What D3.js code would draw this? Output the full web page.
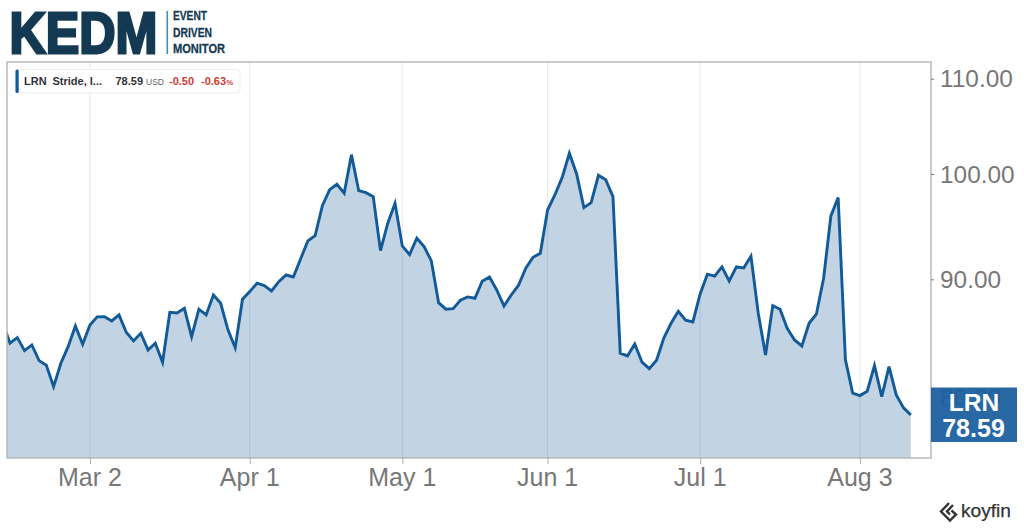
<!DOCTYPE html>
<html><head><meta charset="utf-8">
<style>html,body{margin:0;padding:0;background:#fff}svg{display:block}text{font-family:"Liberation Sans",Arial,sans-serif}</style>
<script src="https://cdn.jsdelivr.net/npm/d3@7/dist/d3.min.js"></script>
</head><body><svg id="c" width="1024" height="529"></svg>
<script>
const prices = [86.16,84.43,84.90,83.80,84.28,82.97,82.59,80.84,82.75,84.14,85.90,84.34,85.98,86.68,86.70,86.33,86.85,85.36,84.62,85.27,83.86,84.43,82.84,87.08,87.02,87.43,84.98,87.35,86.85,88.60,87.87,85.56,84.05,88.22,
88.90,89.65,89.43,88.96,89.79,90.39,90.21,91.85,93.52,94.02,96.88,98.44,98.98,98.09,101.95,98.34,98.15,97.76,92.62,95.19,97.11,
93.05,92.25,93.77,92.99,91.67,87.92,87.35,87.40,88.13,88.43,88.31,89.83,90.21,89.05,87.63,88.60,89.47,91.00,92.01,92.38,
96.46,97.92,99.63,102.09,100.00,96.69,97.17,99.87,99.43,97.76,83.59,83.36,84.37,82.84,82.31,83.00,84.87,86.13,87.17,86.39,86.24,
88.69,90.46,90.28,91.12,89.85,91.12,91.03,92.10,87.00,83.44,87.66,87.35,85.67,84.70,84.20,86.13,86.91,90.10,95.89,97.66,83.03,80.31,
80.12,80.47,82.56,80.04,82.47,80.17,79.14,78.59];
const xTickIndex = [12,34,55,75,96,118];
const xTickLabels = ["Mar 2","Apr 1","May 1","Jun 1","Jul 1","Aug 3"];
const yTickValues = [80,90,100,110];
const ticker = "LRN", company = "Stride, I...", lastPrice = "78.59", currency = "USD", change = "-0.50", changePct = "-0.63";

const L=7,R=931,T=62,B=458;
const svg=d3.select("#c");
const gray="#777",font='"Liberation Sans",Arial,sans-serif';
// index 0 lies left of the plot edge and is clipped, as in the source
const x=d3.scaleLinear().domain([0,125]).range([2.75,910.8]);
const y=d3.scaleLog().domain([75.27,111.85]).range([B,T]);

svg.append("defs").append("clipPath").attr("id","plot").append("rect")
  .attr("x",L).attr("y",T).attr("width",R-L).attr("height",B-T);

// logo
const navy="#133a52";
svg.append("text").text("KEDM").attr("x",9.5).attr("y",52.5).attr("font-size",57.5).attr("font-weight",700)
  .attr("textLength",148).attr("lengthAdjust","spacingAndGlyphs")
  .attr("fill",navy).attr("stroke",navy).attr("stroke-width",2.8);
svg.append("rect").attr("x",166.5).attr("y",11).attr("width",1.6).attr("height",43).attr("fill","#3c8fb0");
[["EVENT",20,34],["DRIVEN",36.5,39],["MONITOR",52.5,52]].forEach(([t,by,w])=>{
  svg.append("text").text(t).attr("x",173).attr("y",by).attr("font-size",13.5).attr("font-weight",700)
   .attr("textLength",w).attr("lengthAdjust","spacingAndGlyphs").attr("fill",navy)
   .attr("stroke",navy).attr("stroke-width",.3);
});

// gridlines
svg.append("g").selectAll("line").data(xTickIndex).join("line")
  .attr("x1",d=>x(d)).attr("x2",d=>x(d)).attr("y1",T).attr("y2",B)
  .attr("stroke","#e4e6e8").attr("stroke-width",1);

// area + line
const g=svg.append("g").attr("clip-path","url(#plot)");
g.append("path").attr("d",d3.area().x((d,i)=>x(i)).y0(B).y1(d=>y(d))(prices))
  .attr("fill","#0b4f8f").attr("fill-opacity",.25);
g.append("path").attr("d",d3.line().x((d,i)=>x(i)).y(d=>y(d))(prices))
  .attr("fill","none").attr("stroke","#125a98").attr("stroke-width",2.9).attr("stroke-linejoin","miter");

// frame
svg.append("rect").attr("x",L).attr("y",T).attr("width",R-L).attr("height",B-T)
  .attr("fill","none").attr("stroke","#b4b4b4").attr("stroke-width",1.4);

// axes
const xa=svg.append("g").attr("transform",`translate(0,${B})`)
  .call(d3.axisBottom(x).tickValues(xTickIndex).tickFormat((d,i)=>xTickLabels[i]).tickSize(6).tickPadding(4));
xa.select(".domain").remove();
xa.selectAll("line").attr("stroke","#aaa");
xa.selectAll("text").attr("font-size",25).attr("fill",gray).attr("font-family",font).attr("dx",-0.5);

const ya=svg.append("g").attr("transform",`translate(${R},0)`)
  .call(d3.axisRight(y).tickValues(yTickValues).tickFormat(d3.format(".2f")).tickSize(3).tickPadding(6));
ya.select(".domain").remove();
ya.selectAll("line").attr("stroke","#777");
ya.selectAll("text").attr("font-size",24.4).attr("fill",gray).attr("font-family",font).attr("dy","0.34em");

// price label
svg.append("rect").attr("x",931).attr("y",387.5).attr("width",86).attr("height",54.5)
  .attr("fill","#1a5f9f").attr("fill-opacity",.94);
svg.append("text").text(ticker).attr("x",974).attr("y",410.5).attr("text-anchor","middle")
  .attr("font-size",24.5).attr("font-weight",700).attr("fill","#fff");
svg.append("text").text(lastPrice).attr("x",973.5).attr("y",436.5).attr("text-anchor","middle")
  .attr("font-size",25).attr("font-weight",700).attr("fill","#fff");

// legend
svg.append("rect").attr("x",15).attr("y",69.5).attr("width",225).attr("height",23.5).attr("rx",3)
  .attr("fill","#fff").attr("fill-opacity",.9).attr("stroke","#eeeeee");
svg.append("rect").attr("x",15.5).attr("y",69.5).attr("width",3.2).attr("height",23.5).attr("rx",1.5).attr("fill","#125a98");
const lt=(t,xx,col,size,w)=>svg.append("text").text(t).attr("x",xx).attr("y",85)
  .attr("font-size",size).attr("font-weight",w).attr("fill",col);
lt(ticker,24,"#333",11,700);
lt(company,52.5,"#333",11,700);
lt(lastPrice,115.5,"#333",11,700);
lt(currency,146,"#666",8.5,400);
lt(change,169,"#d13b35",11,700);
lt(changePct,201,"#d13b35",11,700);
lt("%",226.5,"#d13b35",7.5,700);

// koyfin mark
svg.append("path")
  .attr("d",d3.line()([[949,503],[941,511.5],[950,520.5],[956,514.5],[951.5,510.5]]))
  .attr("fill","none").attr("stroke","#333").attr("stroke-width",2.4);
svg.append("path")
  .attr("d",d3.line()([[953,505],[947,511.5],[950,514.5]]))
  .attr("fill","none").attr("stroke","#333").attr("stroke-width",2.4);
svg.append("text").text("koyfin").attr("x",961).attr("y",517).attr("font-size",19).attr("fill","#333")
  .attr("stroke","#333").attr("stroke-width",.25)
  .attr("textLength",50).attr("lengthAdjust","spacingAndGlyphs");
</script></body></html>
